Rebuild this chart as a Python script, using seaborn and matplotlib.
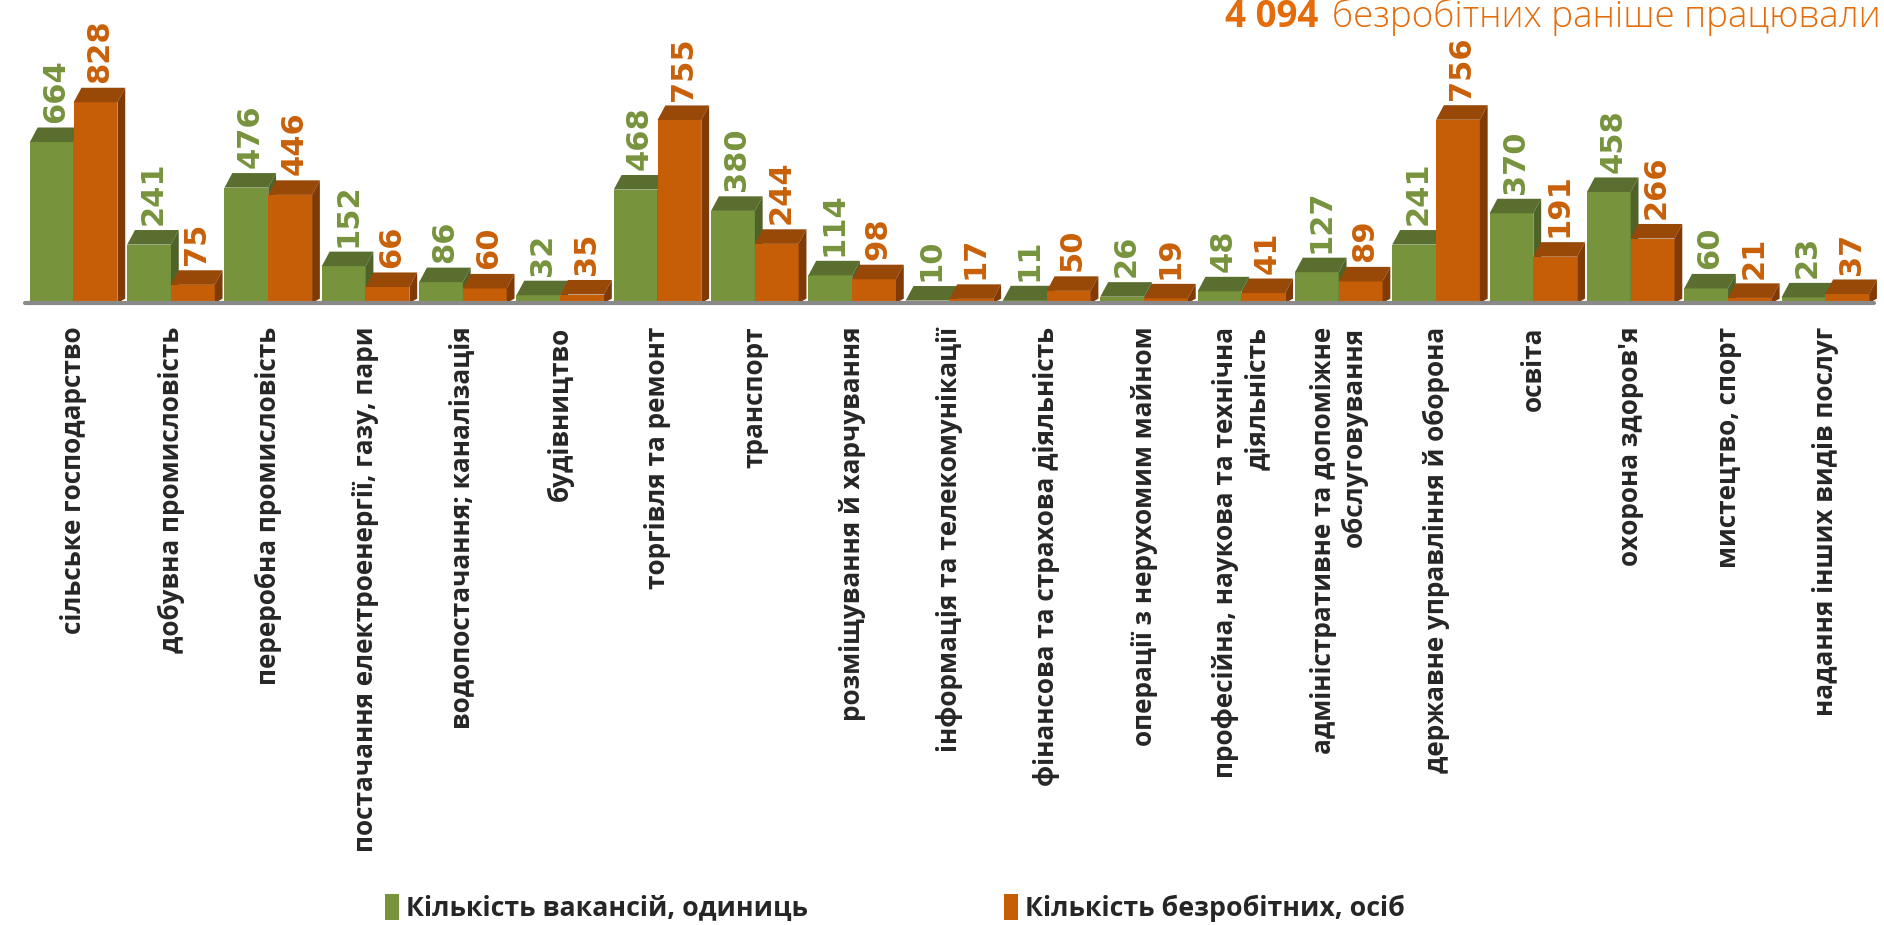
#!/usr/bin/env python3
# -*- coding: utf-8 -*-
"""
Вакансії та безробітні за видами економічної діяльності
(псевдо-3D стовпчикова діаграма)
"""

import pandas as pd
import matplotlib
matplotlib.use('Agg')
import matplotlib.pyplot as plt
from matplotlib.patches import Polygon, Patch
import seaborn as sns

# Дані
categories = [
    'сільське господарство',
    'добувна промисловість',
    'переробна промисловість',
    'постачання електроенергії, газу, пари',
    'водопостачання; каналізація',
    'будівництво',
    'торгівля та ремонт',
    'транспорт',
    'розміщування й харчування',
    'інформація та телекомунікації',
    'фінансова та страхова діяльність',
    'операції з нерухомим майном',
    'професійна, наукова та технічна\nдіяльність',
    'адміністративне та допоміжне\nобслуговування',
    'державне управління й оборона',
    'освіта',
    "охорона здоров'я",
    'мистецтво, спорт',
    'надання інших видів послуг',
]
vacancies = [664, 241, 476, 152, 86, 32, 468, 380, 114, 10, 11, 26, 48, 127,
             241, 370, 458, 60, 23]
unemployed = [828, 75, 446, 66, 60, 35, 755, 244, 98, 17, 50, 19, 41, 89,
              756, 191, 266, 21, 37]
series_names = ['Кількість вакансій, одиниць', 'Кількість безробітних, осіб']
title_number = '4 094'
title_text = 'безробітних раніше працювали'

# Кольори: передня грань, верх, бік, підпис
GREEN = {'front': '#77933C', 'top': '#5A6E2F', 'side': '#4F6228', 'label': '#77933C'}
ORANGE = {'front': '#C65E07', 'top': '#984807', 'side': '#7F3A05', 'label': '#C86008'}
TITLE_COLOR = '#E46C0A'

sns.set_style('white')
plt.rcParams['font.family'] = ['Open Sans', 'DejaVu Sans']

df = pd.DataFrame({
    'category': categories * 2,
    'value': vacancies + unemployed,
    'series': [series_names[0]] * len(categories) + [series_names[1]] * len(categories),
})

fig = plt.figure(figsize=(18.84, 9.25), dpi=100)
ax = fig.add_axes([25 / 1884, 1 - 303 / 925, 1849 / 1884, 303 / 925])

sns.barplot(data=df, x='category', y='value', hue='series',
            palette=[GREEN['front'], ORANGE['front']], width=0.9,
            saturation=1, legend=False, ax=ax)

ax.set_ylim(0, 1250)
ax.set_xlim(-0.5, len(categories) - 0.5)

# глибина "3D" у координатах даних
dx, dy = 0.08, 60

for k, (container, style) in enumerate(zip(ax.containers, [GREEN, ORANGE])):
    z = 2 + k
    for bar in container:
        bar.set_zorder(z)
        bar.set_edgecolor('none')
        x0 = bar.get_x()
        w = bar.get_width()
        h = bar.get_height()
        top = Polygon([(x0, h), (x0 + dx, h + dy), (x0 + w + dx, h + dy), (x0 + w, h)],
                      closed=True, facecolor=style['top'], edgecolor='none',
                      zorder=z + 0.1, clip_on=False)
        side = Polygon([(x0 + w, 0), (x0 + w, h), (x0 + w + dx, h + dy), (x0 + w + dx, dy * 0.3)],
                       closed=True, facecolor=style['side'], edgecolor='none',
                       zorder=z + 0.1, clip_on=False)
        ax.add_patch(top)
        ax.add_patch(side)
        # підписи значень -- ширший шрифт, як в оригіналі
        ax.text(x0 + w / 2 + dx / 2, h + dy + 20, f'{int(h)}', rotation=90,
                ha='center', va='bottom', fontsize=22, fontweight='bold',
                family='DejaVu Sans', color=style['label'], clip_on=False, zorder=6)

# підлога
ax.axhline(0, color='#8A8A8A', lw=3, zorder=5, clip_on=False)

for s in ax.spines.values():
    s.set_visible(False)
ax.set_yticks([])
ax.set_xlabel('')
ax.set_ylabel('')
ax.set_xticks(range(len(categories)))
ax.set_xticklabels(categories, rotation=90, fontsize=18.8, fontweight='bold')
ax.tick_params(axis='x', length=0, pad=17)
for t in ax.get_xticklabels():
    t.set_multialignment('right')

# легенда
handles = [Patch(facecolor=GREEN['front'], edgecolor='none'),
           Patch(facecolor=ORANGE['front'], edgecolor='none')]
fig.legend(handles, series_names, loc='center', bbox_to_anchor=(0.475, 0.018),
           ncol=2, frameon=False, handlelength=0.55, handleheight=1.1,
           handletextpad=0.25, columnspacing=7.3,
           prop={'weight': 'bold', 'size': 19.3})

# заголовок
t2 = fig.text(0.998, 1 - 27 / 925, title_text, ha='right', va='baseline',
              fontsize=26.5, fontweight='light', color=TITLE_COLOR)
fig.canvas.draw()
bb = t2.get_window_extent()
fig.text(bb.x0 / fig.bbox.width - 0.007, 1 - 27 / 925, title_number, ha='right',
         va='baseline', fontsize=26.5, fontweight='bold', color=TITLE_COLOR)

fig.savefig('out.png', dpi=100)
